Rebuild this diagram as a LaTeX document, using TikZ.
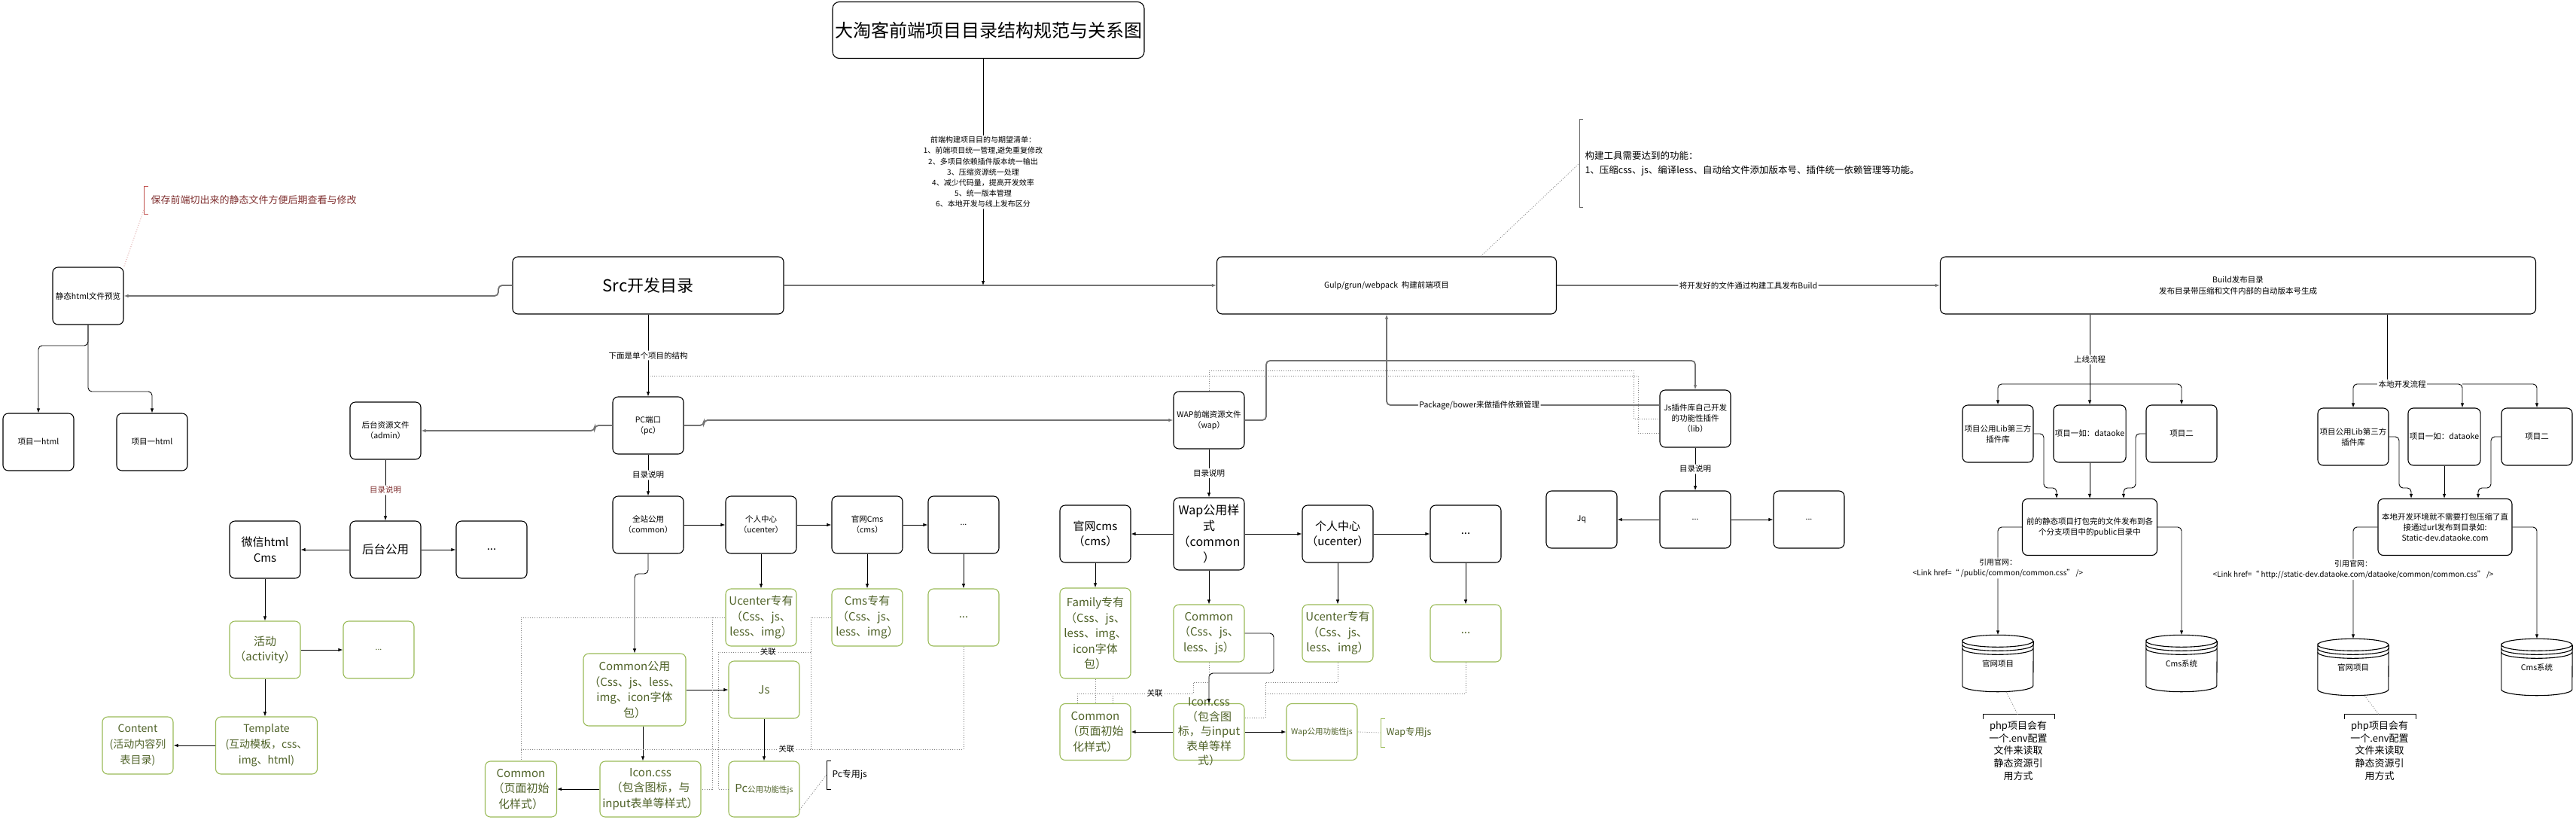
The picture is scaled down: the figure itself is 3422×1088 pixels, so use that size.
\documentclass[tikz,border=0pt]{standalone}
\usepackage{fontspec}
\setmainfont{Noto Sans CJK SC}
\usetikzlibrary{arrows.meta}
\definecolor{boxgreen}{HTML}{9BBB59}
\definecolor{olivetext}{HTML}{4F6228}
\definecolor{notered}{HTML}{C0504D}
\definecolor{notebrown}{HTML}{7F2F2F}

\begin{document}
\begin{tikzpicture}[x=1pt,y=-1pt,
    font=\fontsize{10.5}{14}\selectfont,
    box/.style={draw, line width=1.1pt, rounded corners=7pt, align=center,
      inner sep=2pt, minimum width=94pt, minimum height=76pt},
    gbox/.style={box, draw=boxgreen, text=olivetext},
    midfont/.style={font=\fontsize{15}{20.5}\selectfont},
    conn/.style={line width=0.9pt, rounded corners=5pt},
    arr/.style={conn, -{Latex[length=6pt,width=4.5pt]}},
    garr/.style={arr, line width=1.8pt, draw=black!55},
    dots/.style={draw=black!50, line width=0.8pt, dash pattern=on 1pt off 2pt},
    lbl/.style={fill=white, inner sep=1.5pt}]

  \useasboundingbox (0,0) rectangle (3422,1088);
  \fill[white] (0,0) rectangle (3422,1088);

  \node[box, minimum width=414pt, minimum height=75pt, rounded corners=9pt,
    font=\fontsize{24}{28}\selectfont] (title) at (1313,40) {大淘客前端项目目录结构规范与关系图};
  \node[box, minimum width=360pt, font=\fontsize{22}{26}\selectfont] (src) at (861,379) {Src开发目录};
  \node[box, minimum width=451pt] (gulp) at (1842,379) {Gulp/grun/webpack\ \ 构建前端项目};
  \node[box, minimum width=791pt, font=\fontsize{10.5}{15}\selectfont] (build) at (2973,379)
    {Build发布目录\\发布目录带压缩和文件内部的自动版本号生成};
  \coordinate (meet) at (1306,379);

  \draw[garr] (src) -- (gulp);
  \draw[arr] (title.south -| meet) -- node[lbl, align=center, font=\fontsize{10}{14.2}\selectfont]
    {前端构建项目目的与期望清单：\\1、前端项目统一管理,避免重复修改\\2、多项目依赖插件版本统一输出\\3、压缩资源统一处理\\4、减少代码量，提高开发效率\\5、统一版本管理\\6、本地开发与线上发布区分} (meet);
  \draw[garr] (gulp) -- node[lbl]{将开发好的文件通过构建工具发布Build} (build);

  \draw[notered, line width=1pt] (197,247) -- (191,247) -- (191,284) -- (197,284);
  \node[anchor=west, text=notebrown, font=\fontsize{13}{16}\selectfont] (note1) at (197,266)
    {保存前端切出来的静态文件方便后期查看与修改};
  \node[box] (static) at (117,393) {静态html文件预览};
  \draw[dots, draw=notered!60] (191,279) -- (static.north east);
  \draw[garr] (src.west) -- (662,379) -- (662,393) -- (static.east);
  \node[box] (html1) at (51,587) {项目一html};
  \node[box] (html2) at (202,587) {项目一html};
  \draw[arr] (static.south) -- (117,459) -- (51,459) -- (html1.north);
  \draw[arr] (static.south) -- (117,520) -- (202,520) -- (html2.north);

  \draw[black!60, line width=1pt] (2103,158) -- (2098,158) -- (2098,275) -- (2103,275);
  \node[anchor=west, align=left, font=\fontsize{12.5}{19}\selectfont] (note2) at (2102,217)
    {构建工具需要达到的功能：\\1、压缩css、js、编译less、自动给文件添加版本号、插件统一依赖管理等功能。};
  \draw[dots] ([xshift=-101pt]gulp.north east) -- ([xshift=-4pt]note2.west);

  \node[box] (pc) at (861,565) {PC端口\\（pc）};
  \draw[arr] (src) -- node[lbl]{下面是单个项目的结构} (pc);
  \node[box] (adm) at (512,572) {后台资源文件\\（admin）};
  \draw[garr] (pc.west) -- (790,565) -- (790,572) -- (adm.east);
  \node[box] (wap) at (1606,558) {WAP前端资源文件\\（wap）};
  \draw[garr] (pc.east) -- (935,565) -- (935,558) -- (wap.west);
  \node[box] (lib) at (2252,556) {Js插件库自己开发\\的功能性插件\\（lib）};
  \draw[garr] (wap.east) -- (1682,558) -- (1682,479) -- (2252,479) -- (lib.north);
  \draw[garr] ([yshift=18pt]lib.west) -- node[lbl, pos=0.66]{Package/bower来做插件依赖管理} (1842,538) -- (gulp.south);
  \draw[dots] (863,499) -- (2176,499) -- (2176,575) -- ([yshift=-19pt]lib.west);
  \draw[dots] (wap.north) -- (1606,492) -- (2170,492) -- (2170,556) -- (lib.west);

  \node[box] (libdot) at (2252,690) {...};
  \node[box] (jq) at (2101,690) {Jq};
  \node[box] (libdot2) at (2403,690) {...};
  \draw[arr] (lib) -- node[lbl]{目录说明} (libdot);
  \draw[arr] (libdot) -- (jq);
  \draw[arr] (libdot) -- (libdot2);

  \node[box, font=\fontsize{15.5}{20}\selectfont] (admcom) at (512,730) {后台公用};
  \draw[arr] (adm) -- node[lbl, text=notebrown]{目录说明} (admcom);
  \node[box, midfont] (wx) at (352,730) {微信html\\Cms};
  \node[box, midfont] (admdot) at (653,730) {...};
  \draw[arr] (admcom) -- (wx);
  \draw[arr] (admcom) -- (admdot);
  \node[gbox, midfont] (act) at (352,863) {活动\\（activity）};
  \node[gbox] (actdot) at (503,863) {...};
  \draw[arr] (wx) -- (act);
  \draw[arr] (act) -- (actdot);
  \node[gbox, minimum width=135pt, font=\fontsize{14}{21}\selectfont] (tpl) at (354,990)
    {Template\\(互动模板，css、\\img、html)};
  \draw[arr] (act.south) -- (act.south |- tpl.north);
  \node[gbox, font=\fontsize{14}{21}\selectfont] (cnt) at (183,990) {Content\\(活动内容列\\表目录)};
  \draw[arr] (tpl) -- (cnt);

  \node[box] (qz) at (861,697) {全站公用\\（common）};
  \draw[arr] (pc) -- node[lbl]{目录说明} (qz);
  \node[box] (pcuc) at (1011,697) {个人中心\\（ucenter）};
  \node[box] (pccms) at (1152,697) {官网Cms\\（cms）};
  \node[box] (pcdot) at (1280,697) {...};
  \draw[arr] (qz) -- (pcuc);
  \draw[arr] (pcuc) -- (pccms);
  \draw[arr] (pccms) -- (pcdot);
  \node[gbox, midfont] (pcucx) at (1011,820) {Ucenter专有\\（Css、js、\\less、img）};
  \node[gbox, midfont] (pccmsx) at (1152,820) {Cms专有\\（Css、js、\\less、img）};
  \node[gbox, midfont] (pcdotx) at (1280,820) {...};
  \draw[arr] (pcuc) -- (pcucx);
  \draw[arr] (pccms) -- (pccmsx);
  \draw[arr] (pcdot) -- (pcdotx);
  \node[gbox, midfont, minimum width=136pt, minimum height=96pt] (pccom) at (843,916)
    {Common公用\\（Css、js、less、\\img、icon字体\\包）};
  \draw[arr] (qz.south) -- (861,762) -- (843,762) -- (pccom.north);
  \node[gbox, midfont] (pcjsx) at (1015,916) {Js};
  \draw[arr] (pccom) -- (pcjsx);
  \node[gbox, midfont, minimum width=134pt, minimum height=74pt] (pcicon) at (864,1048)
    {Icon.css\\（包含图标，与\\input表单等样式）};
  \draw[arr] ([xshift=11pt]pccom.south) -- ([xshift=-10pt]pcicon.north);
  \node[gbox, minimum height=74pt] (pcfn) at (1015,1048) {{\fontsize{15}{20}\selectfont Pc}公用功能性js};
  \draw[arr] (pcjsx) -- (pcfn);
  \node[gbox, midfont, minimum height=74pt, minimum width=95pt] (pcbase) at (692,1048)
    {Common\\（页面初始\\化样式）};
  \draw[arr] (pcicon) -- (pcbase);
  \draw[line width=1pt] (1104,1010) -- (1098,1010) -- (1098,1048) -- (1104,1048);
  \node[anchor=west, font=\fontsize{12}{14}\selectfont] (pcjsnote) at (1102,1029) {Pc专用js};
  \draw[dots] ([yshift=-27pt]pcfn.east) -- ([xshift=-4pt]pcjsnote.west);
  \draw[dots] (pcucx.west) -- (692,820) -- (pcbase.north);
  \draw[dots] (946,820) -- (946,1048) -- (pcicon.east);
  \draw[dots] (pccmsx.west) -- (1077,820) -- (1077,995);
  \draw[dots] (1077,866) -- node[lbl, pos=0.46]{关联} (954,866) -- (954,1048) -- (pcfn.west);
  \draw[dots] (pcdotx.south) -- (1280,995) -- node[lbl, pos=0.4]{关联} (692,995);

  \node[box, font=\fontsize{16}{21}\selectfont, minimum height=96pt] (wapcom) at (1606,709)
    {Wap公用样\\式\\（common\\）};
  \draw[arr] (wap) -- node[lbl]{目录说明} (wapcom);
  \node[box, midfont] (wapcms) at (1455,709) {官网cms\\（cms）};
  \node[box, midfont] (wapuc) at (1777,709) {个人中心\\（ucenter）};
  \node[box, midfont] (wapdot) at (1947,709) {...};
  \draw[arr] (wapcom) -- (wapcms);
  \draw[arr] (wapcom) -- (wapuc);
  \draw[arr] (wapuc) -- (wapdot);
  \node[gbox, midfont, minimum height=120pt] (family) at (1455,841)
    {Family专有\\（Css、js、\\less、img、\\icon字体\\包）};
  \node[gbox, midfont] (wapcss) at (1606,841) {Common\\（Css、js、\\less、js）};
  \node[gbox, midfont] (wapucx) at (1777,841) {Ucenter专有\\（Css、js、\\less、img）};
  \node[gbox, midfont] (wapdotx) at (1947,841) {...};
  \draw[arr] (wapcms) -- (family);
  \draw[arr] (wapcom) -- (wapcss);
  \draw[arr] (wapuc) -- (wapucx);
  \draw[arr] (wapdot) -- (wapdotx);
  \node[gbox, minimum height=75pt,
    label={[text=olivetext, font=\fontsize{15}{19.5}\selectfont, align=center]center:{Icon.css\\（包含图\\标，与input\\表单等样\\式）}}]
    (wapicon) at (1606,972) {};
  \node[gbox, midfont, minimum height=75pt] (wapbase) at (1455,972) {Common\\（页面初始\\化样式）};
  \node[gbox, minimum height=75pt] (wapfn) at (1756,972) {Wap公用功能性js};
  \draw[arr] (wapicon) -- (wapbase);
  \draw[arr] (wapicon) -- (wapfn);
  \draw[arr] (wapcss.east) -- (1692,841) -- (1692,894) -- (1606,894) -- (wapicon.north);
  \draw[boxgreen, line width=1pt] (1840,954) -- (1834,954) -- (1834,992) -- (1840,992);
  \node[anchor=west, text=olivetext, font=\fontsize{12.5}{15}\selectfont] (wapjsnote) at (1838,973) {Wap专用js};
  \draw[dots] (wapfn.east) -- ([xshift=-4pt]wapjsnote.west);
  \draw[dots] (family.south) -- (wapbase.north);
  \draw[dots] (wapcss.south) -- (1606,906) -- (1585,906) -- (1585,921)
    -- node[lbl, pos=0.33]{关联} (1431,921) -- ([xshift=-24pt]wapbase.north);
  \draw[dots] (1478,921) -- ([xshift=23pt]wapbase.north);
  \draw[dots] (wapucx.south) -- (1777,906) -- (1681,906) -- (1681,953) -- ([yshift=19pt]wapicon.east);
  \draw[dots] (wapdotx.south) -- (1947,921) -- (1681,921);

  \node[box] (b1) at (2654,576) {项目公用Lib第三方\\插件库};
  \node[box] (b2) at (2776,576) {项目一如：dataoke};
  \node[box] (b3) at (2898,576) {项目二};
  \draw[arr] (build.south -| b2.north) -- node[lbl]{上线流程} (b2.north);
  \draw[arr] (2776,510) -| (b1.north);
  \draw[arr] (2776,510) -| (b3.north);
  \node[box, minimum width=179pt, minimum height=75pt] (pub) at (2776,700)
    {前的静态项目打包完的文件发布到各\\个分支项目中的public目录中};
  \draw[arr] (b1.east) -- (2715,576) -- (2715,648) -- (2732,648) -- ([xshift=-44pt]pub.north);
  \draw[arr] (b2) -- (pub);
  \draw[arr] (b3.west) -- (2837,576) -- (2837,648) -- (2821,648) -- ([xshift=45pt]pub.north);

  \node[box] (l1) at (3126,580) {项目公用Lib第三方\\插件库};
  \node[box] (l2) at (3247,580) {项目一如：dataoke};
  \node[box] (l3) at (3370,580) {项目二};
  \draw[conn] ([xshift=198pt]build.south) -- (3171,510);
  \draw[arr] (3171,510) -| (l1.north);
  \draw[arr] (3171,510) -- (3271,510) -- ([xshift=24pt]l2.north);
  \draw[arr] (3271,510) -| (l3.north);
  \node[lbl] (loclbl) at (3191,510) {本地开发流程};
  \node[box, minimum width=178pt, minimum height=75pt] (loc) at (3248,700)
    {本地开发环境就不需要打包压缩了直\\接通过url发布到目录如:\\Static-dev.dataoke.com};
  \draw[arr] (l1.east) -- (3187,580) -- (3187,648) -- (3203,648) -- ([xshift=-45pt]loc.north);
  \draw[arr] (l2.south) -- (l2.south |- loc.north);
  \draw[arr] (l3.west) -- (3309,580) -- (3309,648) -- (3292,648) -- ([xshift=44pt]loc.north);

  \node[minimum width=94pt, minimum height=75pt] (gw1) at (2654,881) {官网项目};
  \node[minimum width=94pt, minimum height=75pt] (cms1) at (2898,881) {Cms系统};
  \node[minimum width=94pt, minimum height=75pt] (gw2) at (3126,886) {官网项目};
  \node[minimum width=94pt, minimum height=75pt] (cms2) at (3370,886) {Cms系统};
  \foreach \c in {gw1,cms1,gw2,cms2} {
    \draw[line width=1.1pt] ([yshift=-8pt]\c.north west)
      arc[start angle=180, end angle=0, x radius=47pt, y radius=8pt]
      arc[start angle=0, end angle=-180, x radius=47pt, y radius=8pt]
      -- ([yshift=8pt]\c.south west)
      arc[start angle=180, end angle=360, x radius=47pt, y radius=8pt]
      -- ([yshift=-8pt]\c.north east);
    \draw[line width=1.1pt] ([yshift=-13pt]\c.north west)
      arc[start angle=180, end angle=360, x radius=47pt, y radius=8pt];
    \draw[line width=1.1pt] ([yshift=-18pt]\c.north west)
      arc[start angle=180, end angle=360, x radius=47pt, y radius=8pt];
  }
  \draw[arr] (pub.west) -| node[lbl, pos=0.69, align=center, font=\fontsize{10}{14}\selectfont]
    {引用官网：\\<Link href=“ /public/common/common.css” />} (gw1.north);
  \draw[arr] (pub.east) -| (cms1.north);
  \draw[arr] (loc.west) -| node[lbl, pos=0.69, align=center, font=\fontsize{10}{14}\selectfont]
    {引用官网：\\<Link href=“ http://static-dev.dataoke.com/dataoke/common/common.css” />} (gw2.north);
  \draw[arr] (loc.east) -| (cms2.north);

  \node[align=center, font=\fontsize{13}{16.7}\selectfont] (php1) at (2681,997)
    {php项目会有\\一个.env配置\\文件来读取\\静态资源引\\用方式};
  \node[align=center, font=\fontsize{13}{16.7}\selectfont] (php2) at (3161,997)
    {php项目会有\\一个.env配置\\文件来读取\\静态资源引\\用方式};
  \draw[line width=1pt] (2634,955) -- (2634,948) -- (2729,948) -- (2729,955);
  \draw[line width=1pt] (3114,955) -- (3114,948) -- (3209,948) -- (3209,955);
  \draw[dots] ([xshift=11pt]gw1.south) -- ([yshift=4pt]php1.north);
  \draw[dots] ([xshift=15pt]gw2.south) -- ([yshift=4pt]php2.north);
\end{tikzpicture}
\end{document}
